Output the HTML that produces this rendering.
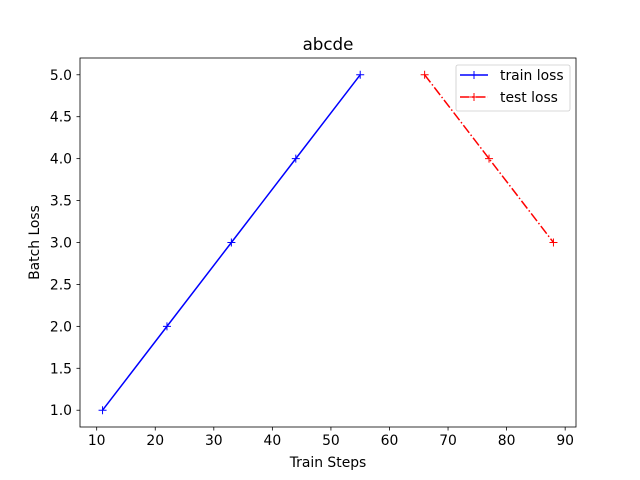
<!DOCTYPE html>
<html><head><meta charset="utf-8"><style>body{margin:0;background:#fff}svg{display:block;font-family:"DejaVu Sans","Liberation Sans",sans-serif}</style></head>
<body>
<svg id="chart" width="640" height="480" xmlns="http://www.w3.org/2000/svg">
<rect width="640" height="480" fill="#fff"/>
<text x="328" y="50" font-size="16.7" text-anchor="middle">abcde</text>
<g id="xt"></g><g id="yt"></g>
<g id="series"></g>
<rect x="80" y="58" width="496" height="369" fill="none" stroke="#000" stroke-width="0.8"/>
<text x="328" y="467" font-size="13.9" text-anchor="middle">Train Steps</text>
<text transform="translate(39,242.5) rotate(-90)" font-size="13.9" text-anchor="middle">Batch Loss</text>
<g>
<rect x="456" y="65" width="114" height="46" rx="2" fill="#fff" stroke="#ccc" stroke-width="0.8"/>
<g>
<line x1="460" y1="75" x2="488" y2="75" stroke="#0000ff" stroke-width="1.5"/>
<path d="M470 75h8M474 71v8" stroke="#0000ff" stroke-width="1"/>
<text x="500" y="80" font-size="13.9">train loss</text></g>
<g>
<line x1="460" y1="97" x2="488" y2="97" stroke="#ff0000" stroke-width="1.5" stroke-dasharray="9.6,2.4,1.5,2.4"/>
<path d="M470 97h8M474 93v8" stroke="#ff0000" stroke-width="1"/>
<text x="500" y="102" font-size="13.9">test loss</text></g>
</g>
</svg>
<script>
const trainX=[11,22,33,44,55];
const trainY=[1,2,3,4,5];
const testX=[66,77,88];
const testY=[5,4,3];
const xTicks=[10,20,30,40,50,60,70,80,90];
const yTicks=[1.0,1.5,2.0,2.5,3.0,3.5,4.0,4.5,5.0];
const NS="http://www.w3.org/2000/svg";
const all=trainX.concat(testX), allY=trainY.concat(testY);
const xmn=Math.min(...all),xmx=Math.max(...all),ymn=Math.min(...allY),ymx=Math.max(...allY);
const x0=xmn-(xmx-xmn)*0.05,x1=xmx+(xmx-xmn)*0.05,y0=ymn-(ymx-ymn)*0.05,y1=ymx+(ymx-ymn)*0.05;
const X=v=>80+(v-x0)/(x1-x0)*496, Y=v=>427-(v-y0)/(y1-y0)*369;
function mk(t,a,p){const e=document.createElementNS(NS,t);for(const k in a)e.setAttribute(k,a[k]);p.appendChild(e);return e;}
const xt=document.getElementById('xt'),yt=document.getElementById('yt');
xTicks.forEach(v=>{const g=mk('g',{},xt);


mk('line',{x1:X(v),x2:X(v),y1:427,y2:430.5,stroke:'#000','stroke-width':0.8},g);
const t=mk('text',{x:X(v),y:445,'font-size':13.9,'text-anchor':'middle'},g);t.textContent=v;});
yTicks.forEach(v=>{const g=mk('g',{},yt);


mk('line',{x1:76.5,x2:80,y1:Y(v),y2:Y(v),stroke:'#000','stroke-width':0.8},g);
const t=mk('text',{x:72,y:Y(v)+5,'font-size':13.9,'text-anchor':'end'},g);t.textContent=v.toFixed(1);});
const s=document.getElementById('series');
function series(xs,ys,c,dash,name){const g=mk('g',{},s);


const a={points:xs.map((v,i)=>X(v)+','+Y(ys[i])).join(' '),fill:'none',stroke:c,'stroke-width':1.5};
if(dash)a['stroke-dasharray']=dash;mk('polyline',a,g);
xs.forEach((v,i)=>{const p=mk('path',{d:`M${X(v)-4} ${Y(ys[i])}h8M${X(v)} ${Y(ys[i])-4}v8`,stroke:c,'stroke-width':1},g);

});}
series(trainX,trainY,'#0000ff',null,'train-loss-line');
series(testX,testY,'#ff0000','9.6,2.4,1.5,2.4','test-loss-line');
</script>
</body></html>
